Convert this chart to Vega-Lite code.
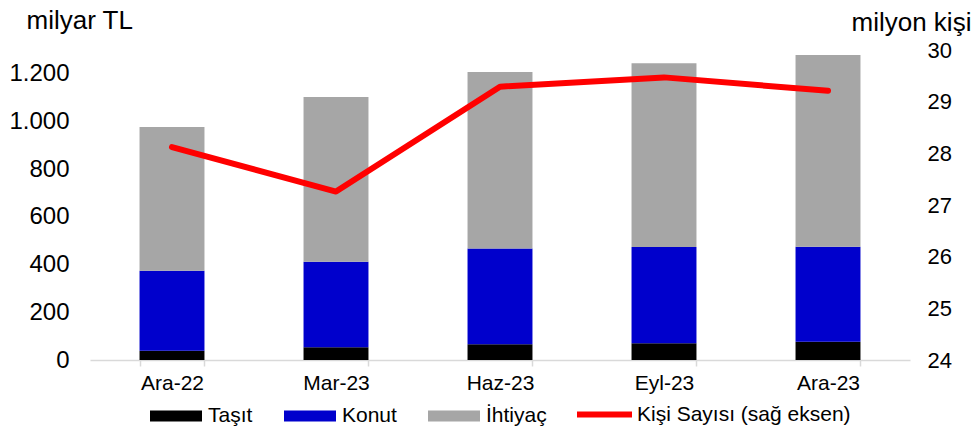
{
  "$schema": "https://vega.github.io/schema/vega-lite/v6.json",
  "width": 820,
  "height": 310,
  "autosize": {"type": "none"},
  "padding": {"left": 90, "top": 50, "right": 66, "bottom": 70},
  "background": "white",
  "config": {
    "view": {"stroke": null},
    "font": "Liberation Sans",
    "axis": {"grid": false, "labelColor": "#000000", "titleColor": "#000000", "titleFontWeight": "normal"},
    "legend": {"labelColor": "#000000", "labelLimit": 400}
  },
  "datasets": {
    "krediler": [
      {"donem": "Ara-22", "tur": "Taşıt", "sira": 1, "deger": 39},
      {"donem": "Ara-22", "tur": "Konut", "sira": 2, "deger": 335},
      {"donem": "Ara-22", "tur": "İhtiyaç", "sira": 3, "deger": 603},
      {"donem": "Mar-23", "tur": "Taşıt", "sira": 1, "deger": 53},
      {"donem": "Mar-23", "tur": "Konut", "sira": 2, "deger": 359},
      {"donem": "Mar-23", "tur": "İhtiyaç", "sira": 3, "deger": 691},
      {"donem": "Haz-23", "tur": "Taşıt", "sira": 1, "deger": 66},
      {"donem": "Haz-23", "tur": "Konut", "sira": 2, "deger": 402},
      {"donem": "Haz-23", "tur": "İhtiyaç", "sira": 3, "deger": 740},
      {"donem": "Eyl-23", "tur": "Taşıt", "sira": 1, "deger": 70},
      {"donem": "Eyl-23", "tur": "Konut", "sira": 2, "deger": 404},
      {"donem": "Eyl-23", "tur": "İhtiyaç", "sira": 3, "deger": 770},
      {"donem": "Ara-23", "tur": "Taşıt", "sira": 1, "deger": 77},
      {"donem": "Ara-23", "tur": "Konut", "sira": 2, "deger": 398},
      {"donem": "Ara-23", "tur": "İhtiyaç", "sira": 3, "deger": 804}
    ],
    "kisi": [
      {"donem": "Ara-22", "seri": "Kişi Sayısı (sağ eksen)", "kisi": 28.12},
      {"donem": "Mar-23", "seri": "Kişi Sayısı (sağ eksen)", "kisi": 27.26},
      {"donem": "Haz-23", "seri": "Kişi Sayısı (sağ eksen)", "kisi": 29.29},
      {"donem": "Eyl-23", "seri": "Kişi Sayısı (sağ eksen)", "kisi": 29.47},
      {"donem": "Ara-23", "seri": "Kişi Sayısı (sağ eksen)", "kisi": 29.21}
    ]
  },
  "layer": [
    {
      "data": {"name": "krediler"},
      "mark": {"type": "bar"},
      "encoding": {
        "x": {
          "field": "donem", "type": "nominal",
          "sort": ["Ara-22", "Mar-23", "Haz-23", "Eyl-23", "Ara-23"],
          "scale": {"paddingInner": 0.604, "paddingOuter": 0.302},
          "axis": {
            "title": null, "labelAngle": 0, "labelFontSize": 21, "labelPadding": 6,
            "tickBand": "extent", "domainColor": "#D9D9D9", "domainWidth": 1.5,
            "tickColor": "#D9D9D9", "tickWidth": 1.5, "tickSize": 6
          }
        },
        "y": {
          "field": "deger", "type": "quantitative", "stack": "zero",
          "scale": {"domain": [0, 1300], "nice": false},
          "axis": {
            "title": "milyar TL", "titleAngle": 0, "titleAlign": "left", "titleBaseline": "alphabetic",
            "titleX": -64, "titleY": -22, "titleFontSize": 26,
            "domain": false, "ticks": false, "labelPadding": 21, "labelFontSize": 24,
            "values": [0, 200, 400, 600, 800, 1000, 1200],
            "labelExpr": "replace(format(datum.value, ','), ',', '.')"
          }
        },
        "fill": {
          "field": "tur", "type": "nominal",
          "scale": {"domain": ["Taşıt", "Konut", "İhtiyaç"], "range": ["#000000", "#0000CC", "#A6A6A6"]},
          "legend": {
            "orient": "none", "legendX": 60, "legendY": 340, "direction": "horizontal", "title": null,
            "symbolType": "M-1,-0.21H1V0.21H-1Z", "symbolSize": 2704, "symbolStrokeWidth": 0,
            "labelFontSize": 21, "labelOffset": 6, "columnPadding": 31, "padding": 0
          }
        },
        "order": {"field": "sira", "type": "quantitative"}
      }
    },
    {
      "data": {"name": "kisi"},
      "mark": {"type": "line", "strokeWidth": 6, "strokeCap": "round", "strokeJoin": "round"},
      "encoding": {
        "x": {"field": "donem", "type": "nominal", "sort": ["Ara-22", "Mar-23", "Haz-23", "Eyl-23", "Ara-23"]},
        "y": {
          "field": "kisi", "type": "quantitative",
          "scale": {"domain": [24, 30], "nice": false},
          "axis": {
            "orient": "right", "title": "milyon kişi", "titleAngle": 0, "titleAlign": "left", "titleBaseline": "alphabetic",
            "titleX": -59, "titleY": -20, "titleFontSize": 26,
            "domain": false, "ticks": false, "labelPadding": 17, "labelFontSize": 22,
            "values": [24, 25, 26, 27, 28, 29, 30]
          }
        },
        "stroke": {
          "field": "seri", "type": "nominal",
          "scale": {"domain": ["Kişi Sayısı (sağ eksen)"], "range": ["#FF0000"]},
          "legend": {
            "orient": "none", "legendX": 484, "legendY": 334, "direction": "horizontal", "title": null,
            "symbolType": "stroke", "symbolSize": 3025, "symbolStrokeWidth": 6,
            "labelFontSize": 21, "labelOffset": 2, "labelLimit": 400, "padding": 0
          }
        }
      }
    }
  ],
  "resolve": {"scale": {"y": "independent"}}
}
